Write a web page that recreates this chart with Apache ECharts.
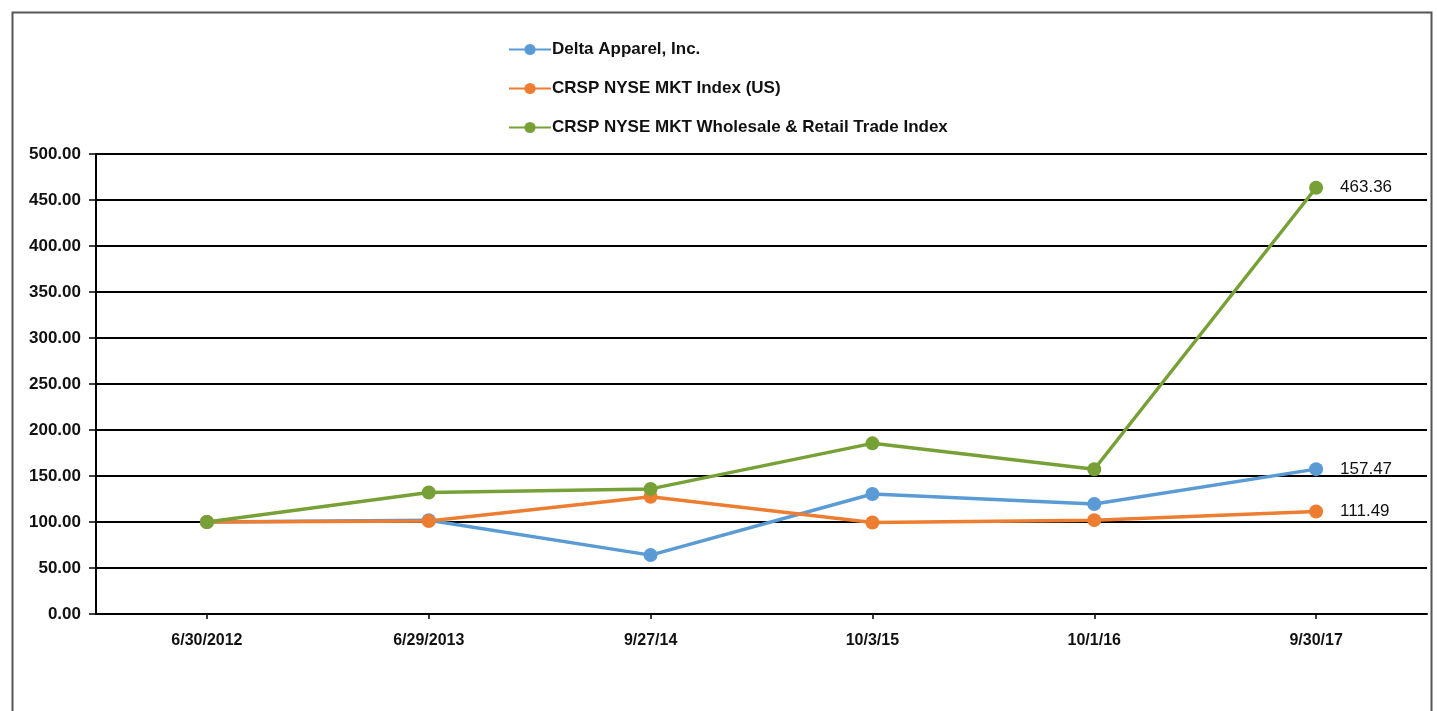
<!DOCTYPE html>
<html>
<head>
<meta charset="utf-8">
<script src="https://cdn.jsdelivr.net/npm/echarts@6/dist/echarts.min.js"></script>
<style>
html,body{margin:0;padding:0;background:#fff;}
#chart{width:1437px;height:711px;}
</style>
</head>
<body>
<div id="chart"></div>
<script>
// 横轴日期
var dates = ['6/30/2012', '6/29/2013', '9/27/14', '10/3/15', '10/1/16', '9/30/17'];
// 三条线的数值
var deltaVals = [100, 102, 64, 130.4, 119.6, 157.47];
var nyseVals = [100, 101, 127.5, 99.5, 102, 111.49];
var tradeVals = [100, 132, 136, 185.5, 157.3, 463.36];
var names = ['Delta Apparel, Inc.', 'CRSP NYSE MKT Index (US)', 'CRSP NYSE MKT Wholesale & Retail Trade Index'];
var colors = ['#5b9bd5', '#ed7d31', '#77a136'];

// 只在最后一个点显示数值
function withLastLabel(arr){
	var out = [];
	for (var i = 0; i < arr.length; i++) {
		if (i == arr.length - 1) {
			out.push({value: arr[i], label: {show: true}});
		} else {
			out.push(arr[i]);
		}
	}
	return out;
}

function makeSeries(name, vals, color){
	return {
		name: name,
		type: 'line',
		data: withLastLabel(vals),
		symbol: 'circle',
		symbolSize: 14,
		lineStyle: {width: 3.5, color: color},
		itemStyle: {color: color},
		label: {
			show: false,
			position: 'right',
			distance: 17,
			color: '#111',
			fontSize: 17,
			fontFamily: 'Liberation Sans, Arial, sans-serif',
			formatter: function(p){ return p.value.toFixed(2); }
		},
		emphasis: {disabled: true}
	};
}

var chart = echarts.init(document.getElementById('chart'));
var option = {
	animation: false,
	backgroundColor: '#fff',
	color: colors,
	graphic: [{
		type: 'rect',
		left: 10, top: 10,
		shape: {width: 1419, height: 710},
		style: {fill: 'none', stroke: '#555', lineWidth: 2},
		silent: true
	}],
	legend: {
		orient: 'vertical',
		left: 503,
		top: 36,
		itemGap: 22,
		itemWidth: 42,
		itemHeight: 14,
		data: names,
		textStyle: {
			fontSize: 17,
			fontWeight: 'bold',
			color: '#111',
			fontFamily: 'Liberation Sans, Arial, sans-serif',
			padding: [0, 0, 0, -4]
		}
	},
	grid: {left: 96, right: 10, top: 154, bottom: 97},
	xAxis: {
		type: 'category',
		data: dates,
		boundaryGap: true,
		axisLine: {lineStyle: {color: '#000', width: 2}},
		axisTick: {show: true, alignWithLabel: true, length: 5, inside: false, lineStyle: {color: '#000', width: 1.5}},
		axisLabel: {
			margin: 19,
			fontSize: 16,
			fontWeight: 'bold',
			color: '#111',
			fontFamily: 'Liberation Sans, Arial, sans-serif'
		},
		splitLine: {show: false}
	},
	yAxis: {
		type: 'value',
		min: 0,
		max: 500,
		interval: 50,
		axisLine: {show: true, lineStyle: {color: '#000', width: 2}},
		axisTick: {show: true, length: 7, lineStyle: {color: '#000', width: 1.5}},
		axisLabel: {
			margin: 15,
			fontSize: 17,
			fontWeight: 'bold',
			color: '#111',
			fontFamily: 'Liberation Sans, Arial, sans-serif',
			formatter: function(v){ return v.toFixed(2); }
		},
		splitLine: {lineStyle: {color: '#000', width: 2}}
	},
	series: [
		makeSeries(names[0], deltaVals, colors[0]),
		makeSeries(names[1], nyseVals, colors[1]),
		makeSeries(names[2], tradeVals, colors[2])
	]
};
chart.setOption(option);
</script>
</body>
</html>
